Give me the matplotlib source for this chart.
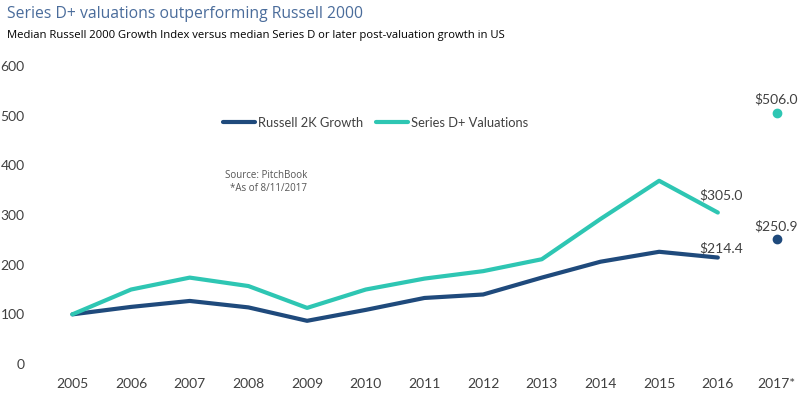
import matplotlib
matplotlib.use("Agg")
import matplotlib.pyplot as plt

# datos
years = ['2005', '2006', '2007', '2008', '2009', '2010', '2011',
         '2012', '2013', '2014', '2015', '2016', '2017*']
russell = [100, 115, 127, 114, 87, 109, 133, 140, 174, 206, 226, 214.4]
series_d = [100, 150, 174, 157, 113, 150, 172, 187, 211, 292, 369, 305.0]
russell_2017 = 250.9
series_d_2017 = 506.0

navy = '#1F4A7C'
teal = '#2EC6B3'
gris = '#404040'

plt.rcParams['font.family'] = ['Lato', 'DejaVu Sans']

fig = plt.figure(figsize=(8.04, 3.98), dpi=100)
ax = fig.add_axes([0.055, 0.0854, 0.94, 0.7486])

x = list(range(len(russell)))
ax.plot(x, russell, color=navy, lw=3, label='Russell 2K Growth', solid_capstyle='round')
ax.plot(x, series_d, color=teal, lw=3, label='Series D+ Valuations', solid_capstyle='round')

# punto 2017 aparte
x17 = len(years) - 1
ax.plot([x17], [russell_2017], 'o', color=navy, ms=6)
ax.plot([x17], [series_d_2017], 'o', color=teal, ms=6)

# etiquetas de valores
ax.text(x[-1] + 0.05, russell[-1] + 7, '$%.1f' % russell[-1], ha='center', va='bottom', fontsize=10, color=gris)
ax.text(x[-1] + 0.05, series_d[-1] + 22, '$%.1f' % series_d[-1], ha='center', va='bottom', fontsize=10, color=gris)
ax.text(x17, russell_2017 + 14, '$%.1f' % russell_2017, ha='center', va='bottom', fontsize=10, color=gris)
ax.text(x17, series_d_2017 + 14, '$%.1f' % series_d_2017, ha='center', va='bottom', fontsize=10, color=gris)

ax.set_xlim(-0.48, 12.4)
ax.set_ylim(0, 600)
ax.set_xticks(range(len(years)))
ax.set_xticklabels(years)
ax.set_yticks(range(0, 601, 100))
ax.tick_params(length=0, labelsize=10, colors=gris, pad=10)
ax.tick_params(axis='y', pad=14)
for s in ax.spines.values():
    s.set_visible(False)

leg = ax.legend(loc='center', bbox_to_anchor=(0.438, 0.81), ncol=2, frameon=False,
                fontsize=9.3, handlelength=2.5, columnspacing=1.0, handletextpad=0.2)
for t in leg.get_texts():
    t.set_color(gris)

ax.text(0.348, 0.634, 'Source: PitchBook', transform=ax.transAxes, fontsize=7,
        color='#555555', ha='right', va='center', family=['Open Sans', 'DejaVu Sans'])
ax.text(0.348, 0.59, '*As of 8/11/2017', transform=ax.transAxes, fontsize=7,
        color='#555555', ha='right', va='center', family=['Open Sans', 'DejaVu Sans'])

fig.text(0.009, 0.965, 'Series D+ valuations outperforming Russell 2000', fontsize=11.3,
         color='#4A6C9B', ha='left', va='center', family=['Open Sans', 'DejaVu Sans'])
fig.text(0.009, 0.912, 'Median Russell 2000 Growth Index versus median Series D or later post-valuation growth in US',
         fontsize=8.1, color='#000000', ha='left', va='center', family=['Open Sans', 'DejaVu Sans'])

fig.savefig('out.png', dpi=100)
